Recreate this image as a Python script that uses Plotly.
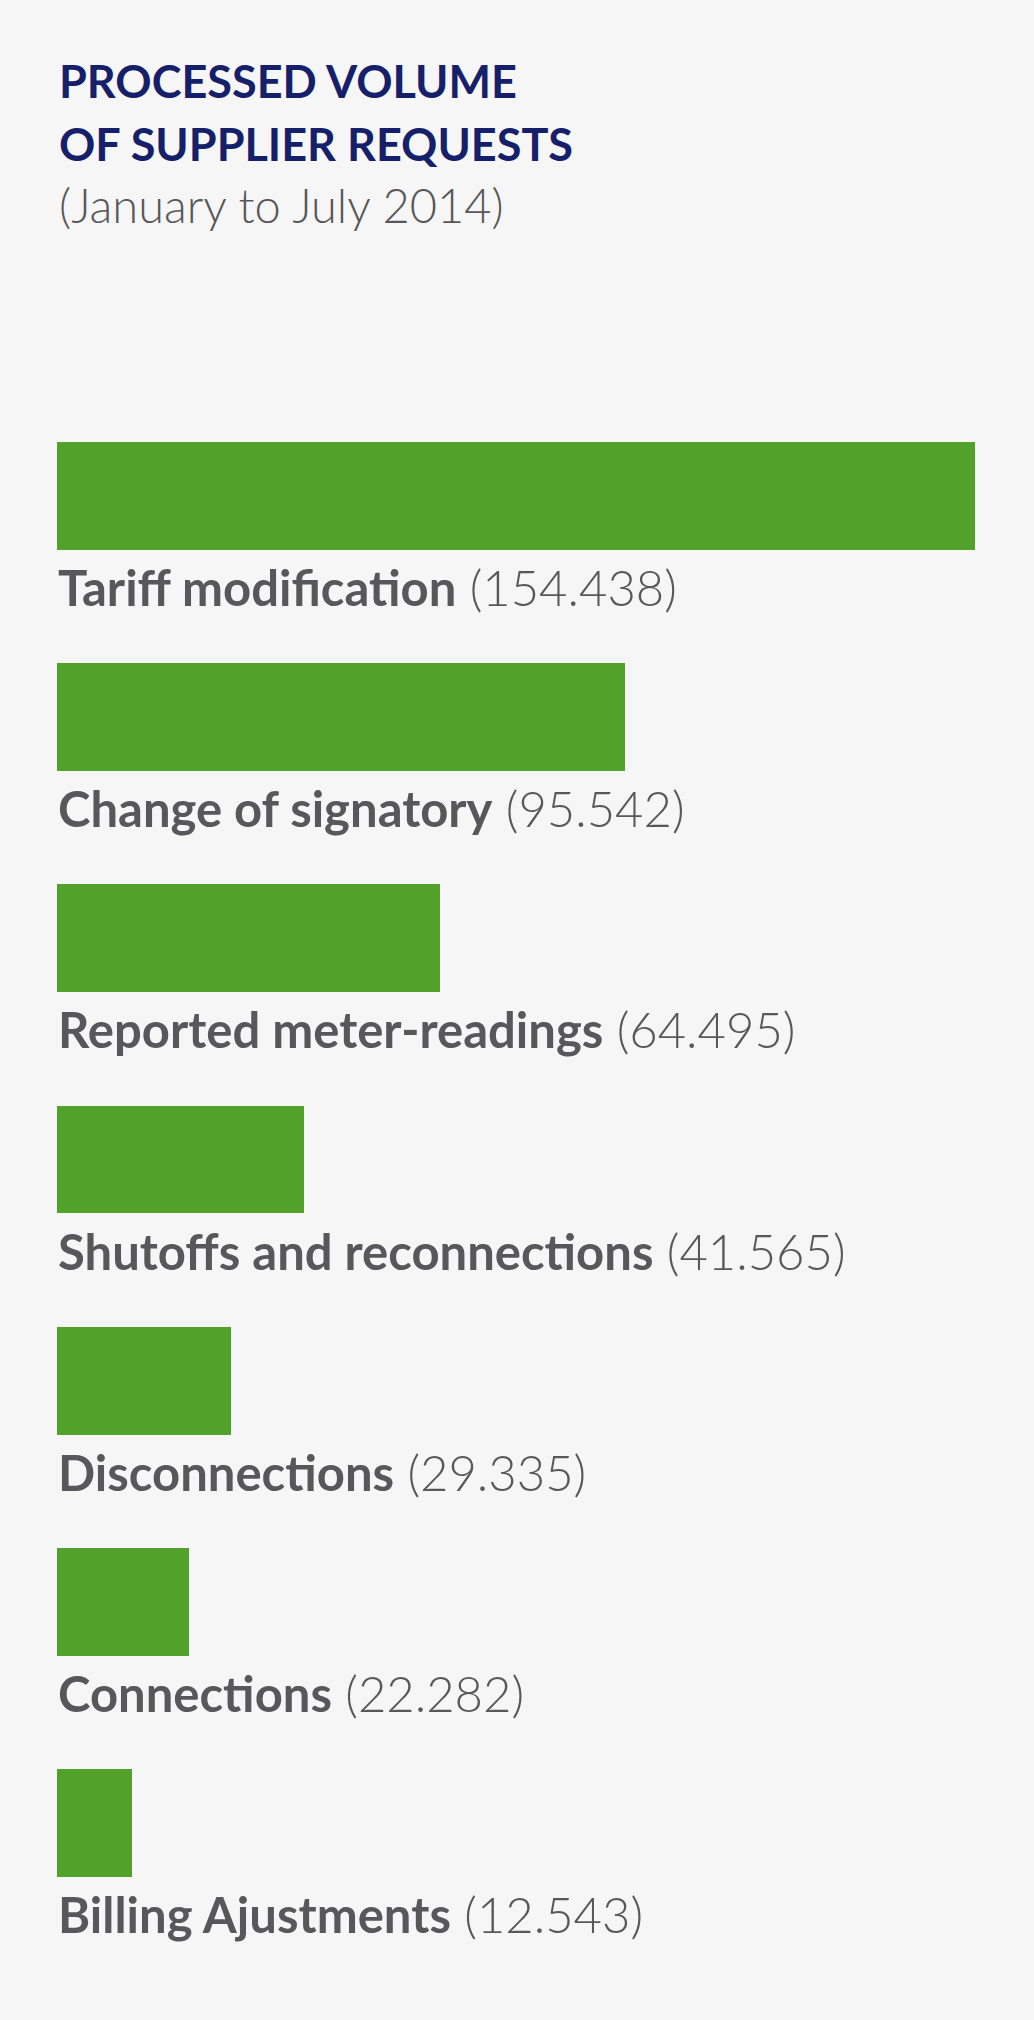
import plotly.graph_objects as go

categories = ["Tariff modification", "Change of signatory", "Reported meter-readings",
              "Shutoffs and reconnections", "Disconnections", "Connections", "Billing Ajustments"]
values = [154438, 95542, 64495, 41565, 29335, 22282, 12543]
title_lines = ["PROCESSED VOLUME", "OF SUPPLIER REQUESTS"]
subtitle = "(January to July 2014)"

W, H = 1034, 2020
BG = "#f6f6f6"
GREEN = "#52a12a"
NAVY = "#16206a"
GRAY = "#58585a"
FONT = "Lato"

m_l, m_r, m_t, m_b = 57, 26, 385, 86
plot_h = H - m_t - m_b

def ypaper(px):
    return (H - m_b - px) / plot_h

def fmt(v):
    return f"{v:,}".replace(",", ".")

fig = go.Figure()
fig.add_trace(go.Bar(
    x=values, y=categories, orientation="h",
    marker=dict(color=GREEN, line=dict(width=0)),
    width=0.488, hoverinfo="skip",
))

annotations = []
for cat, v in zip(categories, values):
    annotations.append(dict(
        x=0, y=cat, xref="x", yref="y", xanchor="left", yanchor="middle",
        yshift=-91, xshift=-1, showarrow=False,
        text=f"<b>{cat}</b> ({fmt(v)})",
        font=dict(family=FONT, size=49, color=GRAY, weight=300),
    ))

title_centers = [80.5, 144]
for line, cy in zip(title_lines, title_centers):
    annotations.append(dict(
        x=0, y=ypaper(cy), xref="paper", yref="paper", xanchor="left", yanchor="middle",
        xshift=0, showarrow=False, text=f"<b>{line}</b>",
        font=dict(family=FONT, size=45, color=NAVY),
    ))
annotations.append(dict(
    x=0, y=ypaper(205), xref="paper", yref="paper", xanchor="left", yanchor="middle",
    xshift=0, showarrow=False, text=subtitle,
    font=dict(family=FONT, size=47, color=GRAY, weight=300),
))

fig.update_layout(
    width=W, height=H,
    margin=dict(l=m_l, r=m_r, t=m_t, b=m_b),
    paper_bgcolor=BG, plot_bgcolor=BG,
    showlegend=False,
    xaxis=dict(range=[0, 160000], visible=False, fixedrange=True),
    yaxis=dict(type="category", categoryorder="array", categoryarray=categories,
               range=[6.5, -0.5], visible=False, fixedrange=True),
    annotations=annotations,
    bargap=0,
)

fig.write_html(
    "out.html",
    config={"displayModeBar": False},
    post_script="document.body.style.margin='0';document.body.style.padding='0';"
                "document.body.style.background='#f6f6f6';"
                "document.documentElement.style.overflow='hidden';",
)
